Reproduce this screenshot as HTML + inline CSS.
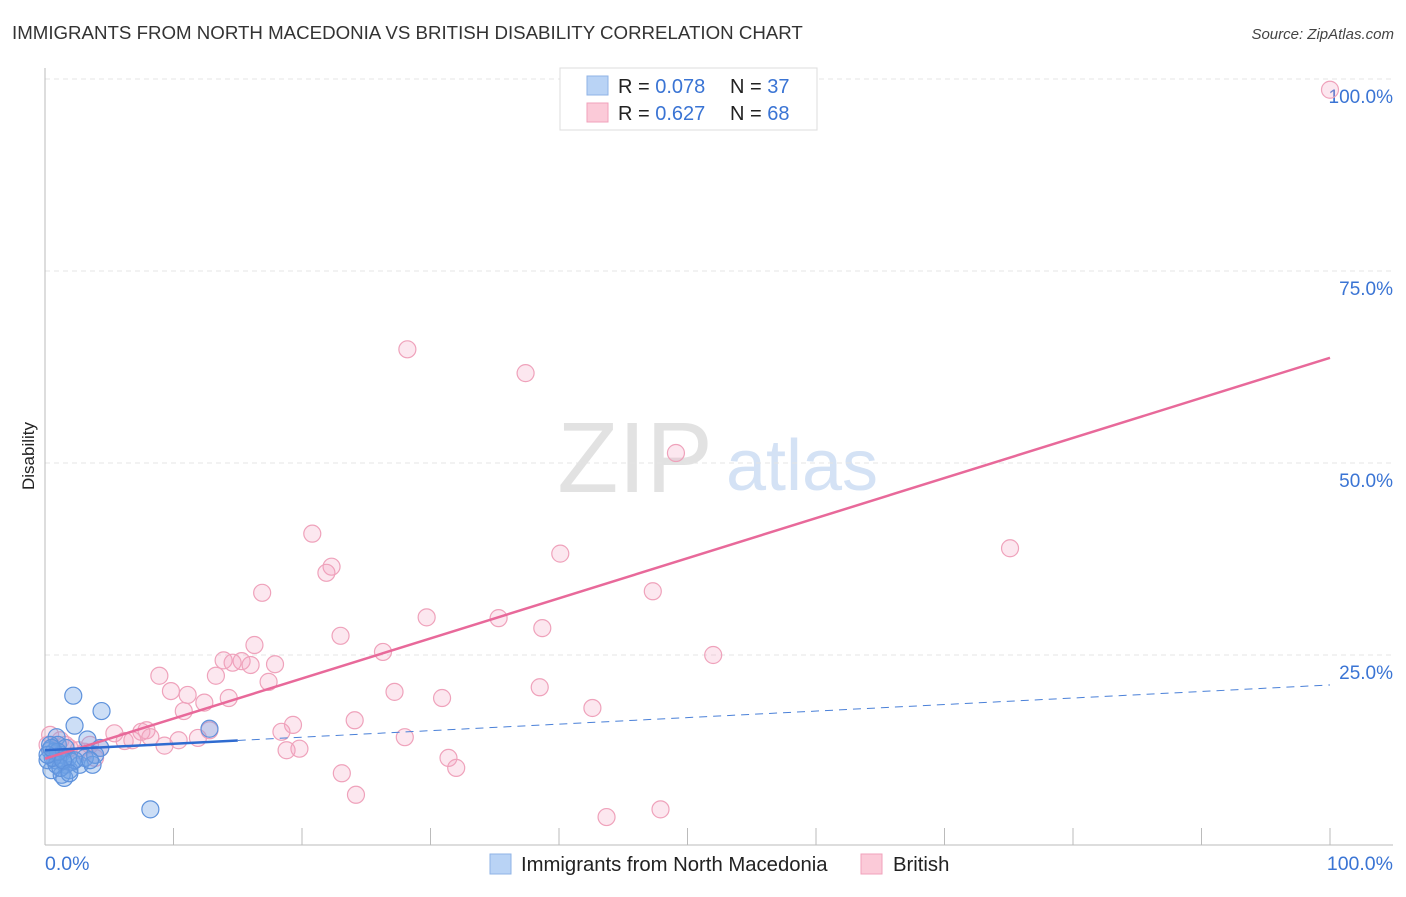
<!DOCTYPE html>
<html><head><meta charset="utf-8"><style>
body{margin:0;background:#fff;font-family:"Liberation Sans",sans-serif}
svg text{font-family:"Liberation Sans",sans-serif}
</style></head><body>
<svg id="chart" width="1406" height="892" xmlns="http://www.w3.org/2000/svg">
<text x="12" y="39" font-size="18.7" fill="#333">IMMIGRANTS FROM NORTH MACEDONIA VS BRITISH DISABILITY CORRELATION CHART</text>
<text x="1394" y="39" font-size="15" fill="#444" text-anchor="end" font-style="italic">Source: ZipAtlas.com</text>
<g>
<text x="635" y="492" font-size="100" fill="#e2e2e2" text-anchor="middle" font-family="Liberation Serif,serif">ZIP</text>
<text x="802" y="490" font-size="72" fill="#d4e2f5" text-anchor="middle">atlas</text>
</g>
<g id="grid"></g>
<g id="axes"></g>
<g id="points"></g>
<g id="lines"></g>
<text transform="translate(34,456) rotate(-90)" font-size="17" fill="#222" text-anchor="middle">Disability</text>
<g>
<rect x="560" y="68" width="257" height="62" fill="#fff" stroke="#ddd"/>
<rect x="587" y="76" width="21" height="19" fill="#b9d3f5" stroke="#8fb3e6"/>
<rect x="587" y="103" width="21" height="19" fill="#fbcad8" stroke="#f0a2bb"/>
<text x="618" y="93" font-size="20" fill="#222">R = <tspan fill="#3a74d4">0.078</tspan><tspan x="730">N = </tspan><tspan fill="#3a74d4">37</tspan></text>
<text x="618" y="120" font-size="20" fill="#222">R = <tspan fill="#3a74d4"> 0.627</tspan><tspan x="730">N = </tspan><tspan fill="#3a74d4">68</tspan></text>
</g>
<g>
<rect x="490" y="854" width="21" height="20" fill="#b9d3f5" stroke="#8fb3e6"/>
<text x="521" y="871" font-size="20.3" fill="#222">Immigrants from North Macedonia</text>
<rect x="861" y="854" width="21" height="20" fill="#fbcad8" stroke="#f0a2bb"/>
<text x="893" y="871" font-size="20.3" fill="#222">British</text>
</g>
</svg>
<script>
const yTicks=[25,50,75,100];
const yTickLabels=["25.0%","50.0%","75.0%","100.0%"];
const xTickLabels=["0.0%","100.0%"];
const blueX=[2.2,4.4,2.3,3.3,0.9,4.3,12.8,8.2,0.4,0.8,1.2,1.6,1.9,0.5,1.0,1.3,1.8,2.7,3.7,0.2,0.7,1.6,2.1,3.1,3.9,0.4,0.9,1.5,1.2,0.6,1.0,2.3,3.5,0.2,1.4,1.9,0.5];
const blueY=[19.7,17.7,15.8,14.0,14.3,12.9,15.4,4.9,12.6,11.3,12.0,10.7,10.0,10.0,13.3,9.4,11.6,10.7,10.7,11.3,12.4,12.9,11.1,11.6,12.0,13.3,10.7,9.0,10.3,11.6,12.4,11.3,11.3,12.0,11.3,9.6,12.9];
const pinkX=[100,28.2,37.4,49.1,75.1,20.8,40.1,22.3,21.9,16.9,47.3,29.7,35.3,38.7,23.0,16.3,26.3,52.0,13.9,15.3,14.6,16.0,17.9,8.9,13.3,17.4,9.8,11.1,27.2,38.5,30.9,14.3,12.4,10.8,42.6,24.1,19.3,18.4,12.8,7.9,28.0,7.5,5.4,8.2,6.2,10.4,11.9,6.8,9.3,18.8,19.8,4.3,31.4,32.0,23.1,24.2,47.9,43.7,0.4,1.2,1.9,3.1,3.9,0.8,1.6,2.6,0.2,3.5];
const pinkY=[98.6,64.8,61.7,51.3,38.9,40.8,38.2,36.5,35.7,33.1,33.3,29.9,29.8,28.5,27.5,26.3,25.4,25.0,24.3,24.2,24.0,23.7,23.8,22.3,22.3,21.5,20.3,19.8,20.2,20.8,19.4,19.4,18.8,17.7,18.1,16.5,15.9,15.0,15.2,15.2,14.3,15.0,14.8,14.3,13.8,13.9,14.2,13.9,13.2,12.6,12.8,12.9,11.6,10.3,9.6,6.8,4.9,3.9,14.6,13.9,12.9,12.4,11.6,12.0,13.3,12.6,13.3,13.3];
const blueTrend=[12.6,21.1];
const pinkTrend=[11.5,63.7];
const blueSolidEnd=15;
const NS="http://www.w3.org/2000/svg";
const X=v=>45+v*12.85, Y=v=>847-v*7.68;
function mk(tag,attrs,parent){const e=document.createElementNS(NS,tag);for(const k in attrs)e.setAttribute(k,attrs[k]);document.getElementById(parent).appendChild(e);return e;}
yTicks.forEach((t,i)=>{
 const g=mk('line',{x1:45,x2:1393,y1:Y(t),y2:Y(t),stroke:'#e4e4e4','stroke-dasharray':'5,4'},'grid');
 
 
 const l=mk('text',{x:1393,y:Y(t)+24,'font-size':19,fill:'#3a74d4','text-anchor':'end'},'grid');
 l.textContent=yTickLabels[i];
 
 
});
const ax=mk('line',{x1:45,x2:45,y1:68,y2:845,stroke:'#bbb'},'axes');


const bx=mk('line',{x1:45,x2:1393,y1:845,y2:845,stroke:'#bbb'},'axes');


for(let i=0;i<=10;i++){
 const t=mk('line',{x1:X(i*10),x2:X(i*10),y1:828,y2:845,stroke:'#bbb'},'axes');
 
 
}
[[0,'start'],[100,'end']].forEach(([v,a],i)=>{
 const l=mk('text',{x:i?1393:45,y:870,'font-size':19.5,fill:'#3a74d4','text-anchor':a},'axes');
 l.textContent=xTickLabels[i];
 
 
});
pinkX.forEach((x,i)=>{
 const c=mk('circle',{cx:X(x),cy:Y(pinkY[i]),r:8.5,fill:'rgba(245,160,190,0.25)',stroke:'#efa2bb','stroke-width':1.2},'points');
 
 
});
blueX.forEach((x,i)=>{
 const c=mk('circle',{cx:X(x),cy:Y(blueY[i]),r:8.5,fill:'rgba(110,160,230,0.35)',stroke:'#5e92dc','stroke-width':1.2},'points');
 
 
});
const bAt=v=>blueTrend[0]+(blueTrend[1]-blueTrend[0])*v/100;
const pl=mk('line',{x1:X(0),y1:Y(pinkTrend[0]),x2:X(100),y2:Y(pinkTrend[1]),stroke:'#e8699a','stroke-width':2.5},'lines');


const bl=mk('line',{x1:X(0),y1:Y(bAt(0)),x2:X(blueSolidEnd),y2:Y(bAt(blueSolidEnd)),stroke:'#2f6bd0','stroke-width':2.5},'lines');


const bd=mk('line',{x1:X(blueSolidEnd),y1:Y(bAt(blueSolidEnd)),x2:X(100),y2:Y(bAt(100)),stroke:'#4a80d8','stroke-width':1,'stroke-dasharray':'8,6'},'lines');


</script>
</body></html>
